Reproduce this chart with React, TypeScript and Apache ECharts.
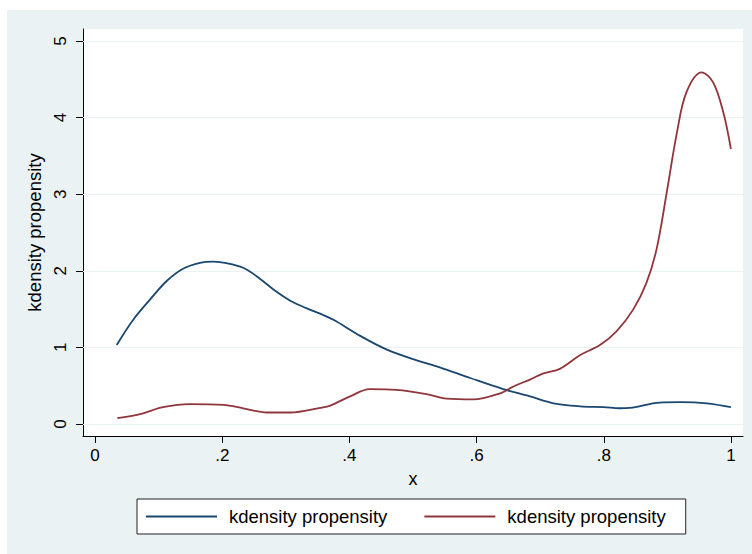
import React, { useEffect, useRef } from "react";
import * as echarts from "echarts";

const xTicks = [0, 0.2, 0.4, 0.6, 0.8, 1];
const yTicks = [0, 1, 2, 3, 4, 5];

const blueX = [0.034, 0.06, 0.087, 0.113, 0.139, 0.165, 0.186, 0.207, 0.233, 0.254, 0.28, 0.307, 0.333, 0.354, 0.375, 0.417, 0.459, 0.506, 0.542, 0.59, 0.642, 0.684, 0.721, 0.763, 0.8, 0.825, 0.841, 0.888, 0.92, 0.962, 1.0];
const blueY = [1.03, 1.36, 1.63, 1.87, 2.03, 2.105, 2.12, 2.1, 2.04, 1.93, 1.76, 1.61, 1.51, 1.44, 1.36, 1.15, 0.97, 0.83, 0.74, 0.6, 0.455, 0.36, 0.27, 0.23, 0.22, 0.205, 0.21, 0.28, 0.285, 0.27, 0.22];

const redX = [0.035, 0.071, 0.107, 0.149, 0.202, 0.233, 0.27, 0.307, 0.354, 0.37, 0.401, 0.432, 0.474, 0.521, 0.553, 0.595, 0.637, 0.658, 0.684, 0.705, 0.731, 0.763, 0.794, 0.82, 0.846, 0.867, 0.883, 0.899, 0.915, 0.93, 0.954, 0.972, 0.988, 1.0];
const redY = [0.075, 0.13, 0.22, 0.26, 0.25, 0.205, 0.15, 0.15, 0.21, 0.24, 0.36, 0.455, 0.445, 0.39, 0.33, 0.32, 0.4, 0.49, 0.58, 0.66, 0.72, 0.9, 1.03, 1.21, 1.49, 1.84, 2.28, 3.02, 3.8, 4.33, 4.59, 4.46, 4.07, 3.59];

const seriesNames = ["kdensity propensity#1", "kdensity propensity#2"];

const FONT = "Liberation Sans, Arial, Helvetica, sans-serif";

function fmtTick(v: number): string {
  if (v === 0) return "0";
  if (v === 1) return "1";
  return String(v).replace(/^0/, "");
}

export default function App() {
  const ref = useRef<HTMLDivElement>(null);
  useEffect(() => {
    if (!ref.current) return;
    const chart = echarts.init(ref.current, undefined, { renderer: "svg" });
    const pairs = (xs: number[], ys: number[]) => xs.map((x, i) => [x, ys[i]]);
    chart.setOption({
      animation: false,
      backgroundColor: "#ffffff",
      textStyle: { fontFamily: FONT },
      graphic: [
        {
          type: "rect",
          z: -10,
          silent: true,
          shape: { x: 7, y: 10, width: 745, height: 544 },
          style: { fill: "#eaf2f3" },
        },
      ],
      grid: {
        left: 83,
        right: 9,
        top: 29,
        bottom: 118,
        show: true,
        backgroundColor: "#ffffff",
        borderWidth: 0,
      },
      xAxis: {
        type: "value",
        min: -0.019,
        max: 1.019,
        name: "x",
        nameLocation: "middle",
        nameGap: 34,
        nameTextStyle: { fontSize: 18, color: "#000", fontFamily: FONT },
        axisLine: { show: true, onZero: false, lineStyle: { color: "#000", width: 1 } },
        axisTick: { show: true, length: 7, customValues: xTicks, lineStyle: { color: "#000" } },
        axisLabel: {
          customValues: xTicks,
          formatter: (v: number) => fmtTick(v),
          fontSize: 17,
          color: "#000",
          margin: 11,
          fontFamily: FONT,
        },
        splitLine: { show: false },
      },
      yAxis: {
        type: "value",
        min: -0.157,
        max: 5.157,
        name: "kdensity propensity",
        nameLocation: "middle",
        nameGap: 27,
        nameTextStyle: { fontSize: 18.5, color: "#000", fontFamily: FONT },
        axisLine: { show: true, onZero: false, lineStyle: { color: "#000", width: 1 } },
        axisTick: { show: true, length: 7, customValues: yTicks, lineStyle: { color: "#000" } },
        axisLabel: {
          customValues: yTicks,
          formatter: (v: number) => fmtTick(v),
          rotate: 90,
          fontSize: 17,
          color: "#000",
          margin: 14,
          fontFamily: FONT,
        },
        splitLine: { show: false },
      },
      legend: {
        left: 137,
        top: 499,
        orient: "horizontal",
        selectedMode: false,
        data: seriesNames,
        formatter: (name: string) => name.split("#")[0],
        icon: "rect",
        itemWidth: 71,
        itemHeight: 2,
        itemGap: 37,
        padding: [8, 20, 8, 9],
        backgroundColor: "#ffffff",
        borderColor: "#222",
        borderWidth: 1,
        borderRadius: 0,
        textStyle: { fontSize: 18.5, color: "#000", fontFamily: FONT, padding: [0, 0, 0, 7] },
      },
      series: [
        {
          type: "line",
          name: "gridlines",
          data: [],
          silent: true,
          markLine: {
            silent: true,
            symbol: "none",
            z: 1,
            label: { show: false },
            lineStyle: { color: "#eaf2f3", width: 1.2, type: "solid" },
            data: yTicks.map((y) => ({ yAxis: y })),
          },
        },
        {
          type: "line",
          name: seriesNames[0],
          data: pairs(blueX, blueY),
          smooth: 0.35,
          symbol: "none",
          z: 3,
          lineStyle: { color: "#1a476f", width: 1.8 },
          itemStyle: { color: "#1a476f" },
        },
        {
          type: "line",
          name: seriesNames[1],
          data: pairs(redX, redY),
          smooth: 0.35,
          symbol: "none",
          z: 3,
          lineStyle: { color: "#90353b", width: 1.8 },
          itemStyle: { color: "#90353b" },
        },
      ],
    });
    return () => chart.dispose();
  }, []);
  return (
    <div
      ref={ref}
      style={{ position: "absolute", left: 0, top: 0, width: 752, height: 554 }}
    />
  );
}
